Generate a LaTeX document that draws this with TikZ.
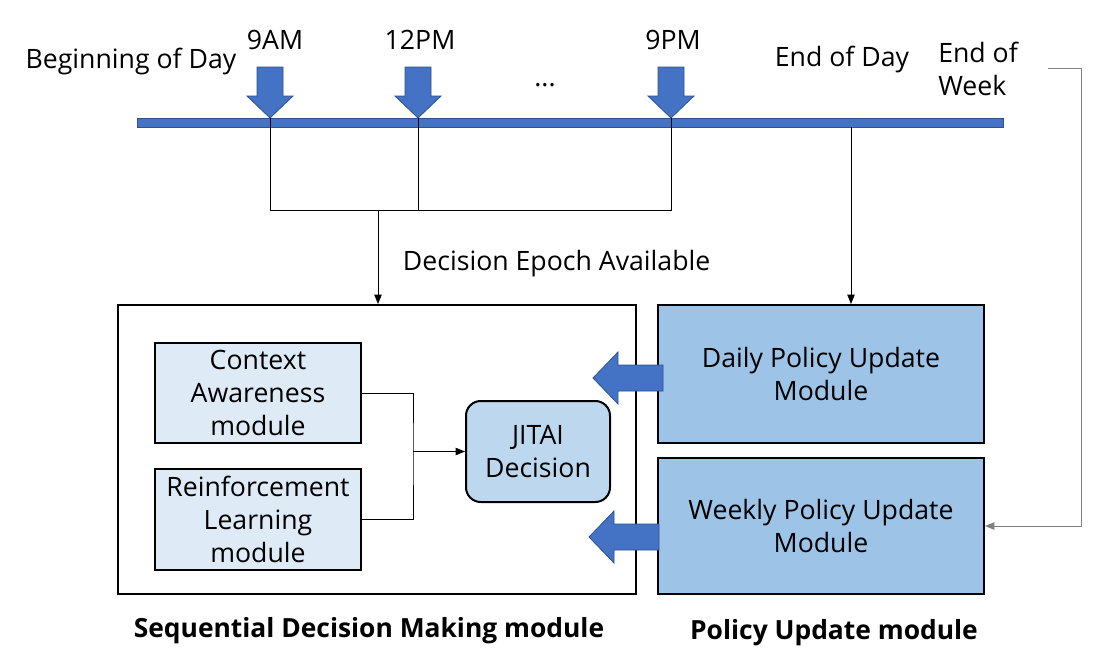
\documentclass[tikz,border=0pt]{standalone}
\usepackage{fontspec}
\setmainfont{Open Sans}
\usetikzlibrary{positioning,arrows.meta}
\definecolor{barblue}{HTML}{4472C4}
\definecolor{edgeblue}{HTML}{2F528F}
\definecolor{paleblue}{HTML}{DEEBF7}
\definecolor{midblue}{HTML}{BDD7EE}
\definecolor{deepblue}{HTML}{9DC3E6}

\begin{document}
\begin{tikzpicture}[
        x=0.75pt, y=-0.75pt,
        >={Triangle[length=7pt,width=5.5pt]},
        font=\fontsize{20}{24.5}\selectfont,
        link/.style={draw=black, line width=0.75pt},
        box/.style={
            draw,
            line width=1.5pt,
            align=center,
            inner sep=0pt,
            minimum width=#1
        },
        box/.default=206*0.75pt,
        caption/.style={font=\fontsize{19.8}{24}\selectfont\bfseries},
        dropper/.pic={
            \filldraw[fill=barblue, draw=edgeblue, line width=0.6pt]
                (0,0) -- (-23,-22) -- (-13,-22) -- (-13,-51)
                -- (13,-51) -- (13,-22) -- (23,-22) -- cycle;
        },
        pusher/.pic={
            \filldraw[fill=barblue, draw=edgeblue, line width=0.6pt]
                (0,-13) -- (-45,-13) -- (-45,-26) -- (-70,0)
                -- (-45,26) -- (-45,13) -- (0,13) -- cycle;
        }
    ]
        \useasboundingbox[fill=white] (0,0) rectangle (1096,668);

        % time line
        \node[fill=barblue, draw=edgeblue, line width=0.6pt, inner sep=0pt,
              minimum width=866*0.75pt, minimum height=9*0.75pt] (bar) at (570,122.5) {};
        \pic at (270,118) {dropper};
        \pic at (418,118) {dropper};
        \pic at (671,118) {dropper};
        \coordinate (tip9am) at (270,118);
        \coordinate (tip12pm) at (418,118);
        \coordinate (tip9pm) at (671,118);
        \coordinate (eod) at (851,127);
        \coordinate (eow) at (1048,68);
        \coordinate (merge) at (378,210);

        \node (begin) at (131,61) {Beginning of Day};
        \node (am9) at (275,40) {9AM};
        \node (pm12) at (420,40) {12PM};
        \node (dots) at (545,85) {...};
        \node (pm9) at (673,40) {9PM};
        \node (endday) at (842,59) {End of Day};
        \node[align=left, anchor=west, inner sep=0pt] (endweek) at (938,69) {End of\\Week};

        % decision making side
        \node[box=518*0.75pt, minimum height=289*0.75pt] (sdm) at (377,449.5) {};
        \node[box, fill=paleblue, minimum height=100*0.75pt] (ctx) at (258,393) {Context\\Awareness\\module};
        \node[box, fill=paleblue, minimum height=101*0.75pt] (rl) at (258,519.5) {Reinforcement\\Learning\\module};
        \node[box=144*0.75pt, fill=midblue, rounded corners=11pt, minimum height=101*0.75pt] (jitai) at (538,451.5) {JITAI\\Decision};
        \coordinate (fork) at (413,451.5);

        % policy update side
        \node[box=326*0.75pt, fill=deepblue, minimum height=138*0.75pt] (daily) at (821,374) {Daily Policy Update\\Module};
        \node[box=326*0.75pt, fill=deepblue, minimum height=136*0.75pt] (weekly) at (821,526) {Weekly Policy Update\\Module};
        \pic at (663,378) {pusher};
        \pic at (659,537) {pusher};

        \node[caption] (sdmcap) at (369,631) {Sequential Decision Making module};
        \node[caption] (pucap) at (834,633) {Policy Update module};

        \draw[link] (tip9am) |- (tip9pm |- merge) -- (tip9pm);
        \draw[link] (tip12pm) -- (tip12pm |- merge);
        \draw[link, ->] (merge) -- node[midway, right=15pt, yshift=-5pt] {Decision Epoch Available} (merge |- sdm.north);
        \draw[link, ->] (eod) -- (eod |- daily.north);
        \draw[link, draw=gray, ->] (eow) -- ++(33,0) |- (weekly.east);
        \draw[link] (ctx.east) -| (fork) |- (rl.east);
        \draw[link, ->] (fork) -- (jitai.west);
    \end{tikzpicture}
\end{document}
